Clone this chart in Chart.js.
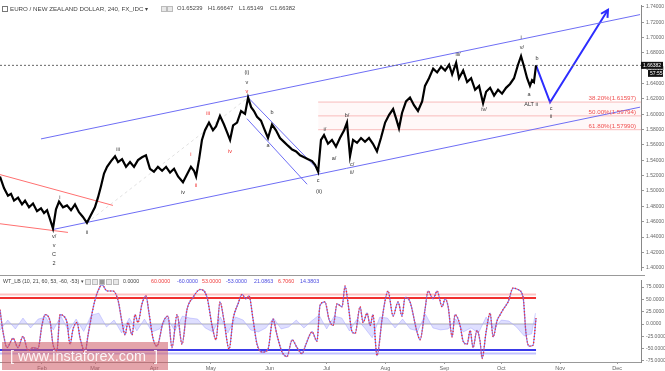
<!DOCTYPE html>
<html>
<head>
<meta charset="utf-8">
<script src="https://cdn.jsdelivr.net/npm/chart.js@4.4.0/dist/chart.umd.min.js"></script>
<style>
  body { margin: 0; background: #fff; font-family: Arial, "Liberation Sans", sans-serif; }
  #wrap { position: relative; width: 665px; height: 371px; overflow: hidden; }
  canvas { position: absolute; left: 0; }
  #top { top: 0; }
  #bot { top: 275px; }
  .t { position: absolute; white-space: nowrap; color: #444; font-size: 5.8px; line-height: 7px; }
  .o { font-size: 5.3px; }
  .ico { position: absolute; width: 4px; height: 4px; border: 1px solid #bbb; background: #e8e8e8; }
  #sep { position: absolute; left: 0; top: 275px; width: 645px; height: 1px; background: #999; }
  #wm { position: absolute; left: 2px; top: 342px; width: 166px; height: 28px; background: rgba(205, 90, 100, 0.55);
        color: rgba(255,255,255,0.9); font-size: 14.4px; line-height: 28px; white-space: nowrap; }
</style>
</head>
<body>
<div id="wrap">
  <canvas id="top" width="665" height="275"></canvas>
  <canvas id="bot" width="665" height="96"></canvas>
  <div id="sep"></div>

  <div class="ico" style="left:2px;top:6px;background:#fff;border-color:#777"></div>
  <div class="t" style="left:10px;top:5px;font-size:6.2px">EURO / NEW ZEALAND DOLLAR, 240, FX_IDC &#9662;</div>
  <div class="ico" style="left:161px;top:6px"></div>
  <div class="ico" style="left:167px;top:6px"></div>
  <div class="t" style="left:177px;top:5px">O1.65239</div>
  <div class="t" style="left:208px;top:5px">H1.66647</div>
  <div class="t" style="left:239px;top:5px">L1.65149</div>
  <div class="t" style="left:270px;top:5px">C1.66382</div>

  <div class="t o" style="left:3px;top:278px">WT_LB (10, 21, 60, 53, -60, -53) &#9662;</div>
  <div class="ico" style="left:85px;top:279px"></div>
  <div class="ico" style="left:92px;top:279px"></div>
  <div class="ico" style="left:99px;top:279px;background:#999"></div>
  <div class="ico" style="left:106px;top:279px"></div>
  <div class="ico" style="left:113px;top:279px"></div>
  <div class="t o" style="left:123px;top:278px">0.0000</div>
  <div class="t o" style="left:151px;top:278px;color:#f03c3c">60.0000</div>
  <div class="t o" style="left:177px;top:278px;color:#4a4ae0">-60.0000</div>
  <div class="t o" style="left:202px;top:278px;color:#f03c3c">53.0000</div>
  <div class="t o" style="left:226px;top:278px;color:#4a4ae0">-53.0000</div>
  <div class="t o" style="left:254px;top:278px;color:#4a4ae0">21.0863</div>
  <div class="t o" style="left:278px;top:278px;color:#f03c3c">6.7060</div>
  <div class="t o" style="left:300px;top:278px;color:#4a4ae0">14.3803</div>

  <div id="wm">&nbsp;&nbsp;[&nbsp;www.instaforex.com&nbsp;&nbsp;]</div>
</div>

<script>
// x axis = day of year 2017
const X_MIN = 8.9, X_MAX = 346.6;

const monthDays = [31, 59, 90, 120, 151, 181, 212, 243, 273, 304, 334];
const monthNames = ['Feb', 'Mar', 'Apr', 'May', 'Jun', 'Jul', 'Aug', 'Sep', 'Oct', 'Nov', 'Dec'];
const priceTicks = [1.40, 1.42, 1.44, 1.46, 1.48, 1.50, 1.52, 1.54, 1.56, 1.58, 1.60, 1.62, 1.64, 1.66, 1.68, 1.70, 1.72, 1.74];
const wtTicks = [-75, -50, -25, 0, 25, 50, 75];

// EUR/NZD 4h price path
const priceDays = [8.9,11.0,13.1,14.7,16.3,18.4,20.5,22.1,24.2,26.3,28.4,30.5,32.1,33.7,35.2,36.8,38.4,40.0,42.1,44.2,
  46.3,48.4,50.5,52.6,54.7,56.8,58.9,60.5,62.1,63.7,65.3,67.4,69.5,71.1,73.2,75.3,77.4,79.5,81.6,83.7,
  85.8,87.9,90.0,92.1,94.3,96.4,98.5,100.6,102.7,105.3,107.4,109.5,111.1,112.2,113.8,115.3,116.9,119.0,121.1,122.7,
  124.8,126.9,128.5,130.1,131.7,133.8,135.9,138.0,139.6,141.2,142.7,144.3,146.4,148.0,150.1,152.2,154.3,156.4,158.5,160.6,
  162.8,164.9,167.0,169.1,171.2,173.3,174.9,176.5,178.0,179.6,181.7,183.8,185.9,188.0,190.2,191.7,193.3,194.9,197.0,199.1,
  201.2,203.3,205.4,207.5,209.6,211.8,213.9,216.0,217.6,219.1,220.7,222.8,224.9,227.0,229.1,231.3,232.8,234.9,237.1,239.2,
  241.3,243.4,245.5,247.1,249.2,250.7,252.9,255.0,257.1,259.2,261.3,263.4,265.0,267.1,269.2,271.3,273.4,275.5,277.6,279.7,
  281.8,283.4,285.0,286.6,288.1,289.2,290.2,291.3];
const priceVals = [1.5189,1.5038,1.4938,1.4963,1.4875,1.4913,1.4825,1.4875,1.4787,1.4837,1.4737,1.4774,1.4712,1.4749,1.4637,1.4511,1.4762,1.4862,1.4787,1.4812,
  1.4749,1.4825,1.4724,1.4662,1.4586,1.4687,1.4787,1.4913,1.5063,1.5227,1.5315,1.5390,1.5453,1.5377,1.5415,1.5315,1.5377,1.5315,1.5403,1.5440,
  1.5465,1.5289,1.5252,1.5315,1.5264,1.5315,1.5239,1.5289,1.5189,1.5113,1.5214,1.5315,1.5264,1.5189,1.5415,1.5666,1.5792,1.5892,1.5792,1.5842,
  1.5980,1.5867,1.5767,1.5666,1.5855,1.5892,1.6043,1.6006,1.6219,1.6093,1.6043,1.5968,1.5918,1.5817,1.5691,1.5867,1.5792,1.5691,1.5641,1.5591,
  1.5541,1.5516,1.5465,1.5440,1.5415,1.5390,1.5340,1.5252,1.5666,1.5729,1.5616,1.5666,1.5578,1.5691,1.5792,1.5892,1.5453,1.5666,1.5628,1.5691,
  1.5641,1.5691,1.5616,1.5516,1.5691,1.5892,1.5993,1.6068,1.5943,1.5817,1.6018,1.6169,1.6219,1.6118,1.6043,1.6169,1.6370,1.6470,1.6596,1.6546,
  1.6621,1.6571,1.6646,1.6521,1.6671,1.6470,1.6571,1.6420,1.6470,1.6320,1.6370,1.6144,1.6294,1.6345,1.6244,1.6320,1.6269,1.6345,1.6395,1.6470,
  1.6646,1.6759,1.6621,1.6470,1.6370,1.6445,1.6420,1.6638];

const lastPrice = 1.66382;

// drawn trend lines: [day, price] end points
const channelUpper = [[30.5, 1.5679], [346.1, 1.7300]];
const channelLower = [[36.8, 1.4498], [346.1, 1.6093]];
const wedgeUpper = [[8.9, 1.5214], [68.4, 1.4812]];
const wedgeLower = [[8.9, 1.4573], [44.7, 1.4460]];
const corrUpper = [[139.6, 1.6219], [177.5, 1.5252]];
const corrLower = [[139.0, 1.5943], [170.7, 1.5088]];
const guideLine = [[54.7, 1.4586], [139.6, 1.6219]];
const projection = [[291.3, 1.6638], [298.7, 1.6156], [329.2, 1.7362]];

const fibStart = 176.5;
const fibLevels = [1.61597, 1.59794, 1.57990];
const fibNames = ['38.20%(1.61597)', '50.00%(1.59794)', '61.80%(1.57990)'];

// wave count labels: text, day, price, red?
const waveLabels = [
  ['(i)', 139.0, 1.6546], ['v', 139.0, 1.6420], ['v', 139.0, 1.6294, 1],
  ['iii', 71.1, 1.5541], ['i', 40.5, 1.4913], ['ii', 54.7, 1.4460],
  ['v/', 37.4, 1.4410], ['v', 37.4, 1.4284], ['C', 37.4, 1.4171], ['2', 37.4, 1.4058],
  ['iv', 105.3, 1.4975], ['i', 109.5, 1.5478, 1], ['ii', 112.2, 1.5076, 1],
  ['iii', 118.5, 1.6006, 1], ['iv', 130.1, 1.5516, 1],
  ['b', 152.2, 1.6018], ['a', 150.1, 1.5591], ['c', 176.5, 1.5139], ['(ii)', 177.0, 1.5000],
  ['i/', 180.1, 1.5804], ['a/', 184.9, 1.5428], ['b/', 191.7, 1.5980], ['c/', 194.4, 1.5352], ['ii/', 194.4, 1.5239],
  ['iii/', 250.2, 1.6784], ['iv/', 263.9, 1.6068], ['v/', 283.9, 1.6872], ['i', 283.4, 1.6998],
  ['b', 291.8, 1.6734], ['a', 287.6, 1.6257], ['ALT ii', 288.7, 1.6131], ['c', 299.2, 1.6081], ['ii', 299.2, 1.5968]
];

// WaveTrend oscillator
const wtDays = [8.9,10.5,12.6,15.8,18.4,21.0,23.7,26.3,28.9,31.0,32.6,35.2,36.8,38.9,40.5,42.1,44.2,45.8,47.4,49.5,
  51.1,53.7,55.3,57.4,58.9,60.5,62.6,65.3,68.4,71.1,73.2,74.8,76.3,78.5,80.0,81.6,83.7,85.8,87.4,89.5,
  91.6,94.8,97.4,99.5,102.2,104.8,107.4,110.6,114.3,118.0,120.6,122.7,124.8,126.9,129.6,131.7,134.3,136.4,138.5,140.1,
  142.2,144.3,147.5,150.1,152.7,154.8,157.5,160.1,162.8,165.4,168.0,170.1,173.3,175.9,177.5,180.1,182.2,184.4,186.5,189.1,
  190.7,192.3,194.4,196.0,198.6,200.2,202.3,203.9,205.4,207.5,210.2,211.8,213.3,216.0,218.6,220.7,222.3,224.9,228.6,230.2,
  232.8,234.4,237.1,239.2,241.8,243.4,245.0,247.1,248.6,251.3,252.9,255.0,256.6,258.1,260.2,261.8,262.9,265.0,267.1,268.7,
  270.8,272.4,273.9,276.6,279.2,281.8,284.5,286.0,287.6,289.7,291.3];
const wtVals = [29,-16,-48,-29,-48,-25,-54,-48,-50,-3,19,7,-41,-54,19,17,3,-41,-10,3,
  -29,-57,-22,22,48,67,80,67,67,48,3,-22,3,-22,19,3,41,57,22,-29,
  -45,3,16,-48,19,-41,29,54,70,54,-3,-32,45,7,-51,10,41,60,51,57,
  10,-41,-57,-51,10,-22,-57,-66,-32,-48,-60,-41,-16,-35,38,45,10,-3,41,35,
  77,41,-16,-19,35,3,22,-3,19,-64,10,48,67,16,45,16,54,45,-16,-32,
  29,67,51,67,35,51,35,-26,19,-3,-35,-41,-13,-48,-13,-35,-70,-16,22,-26,
  7,19,29,45,73,70,54,-19,-45,-43,12];

const histDays = [9,13,17,21,25,29,33,37,41,45,49,53,57,61,65,69,73,77,81,85,89,93,97,101,105,109,113,117,121,125,
  129,133,137,141,145,149,153,157,161,165,169,173,177,181,185,189,193,197,201,205,209,213,217,221,225,229,233,237,241,245,
  249,253,257,261,265,269,273,277,281,285,289,291];
const histVals = [-12,8,-10,12,-8,10,14,-12,16,-14,10,-15,18,22,-6,8,-18,12,-14,10,-16,-10,12,-14,16,12,10,-8,-16,14,
  -18,14,8,-12,-16,-8,12,-10,-6,8,-8,6,18,-10,16,12,-14,10,-8,-28,14,12,-8,10,-10,-14,20,-8,-12,-10,
  10,-16,-8,-18,14,-10,8,6,-6,-24,-20,22];

const wtLevels = [60, 53, 0, -53, -60];
const wtLevelColors = ['rgba(255,120,120,0.45)', '#f03030', 'rgba(120,120,120,0.6)', '#3a3ae8', 'rgba(120,120,255,0.45)'];
const wtLevelWidths = [2, 2, 1, 2, 2];

const pts = arr => arr.map(p => ({ x: p[0], y: p[1] }));
const seg = (pairs, color, width, dash) => ({
  data: pts(pairs), borderColor: color, borderWidth: width, borderDash: dash || [], pointRadius: 0, fill: false
});

const topOverlay = {
  id: 'topOverlay',
  afterDatasetsDraw(chart) {
    const { ctx, scales: { x, y } } = chart;
    ctx.save();
    // arrow head on projection
    const meta = chart.getDatasetMeta(chart.data.datasets.length - 1).data;
    const a = meta[meta.length - 2], b = meta[meta.length - 1];
    const ang = Math.atan2(b.y - a.y, b.x - a.x);
    ctx.strokeStyle = '#2d2dff';
    ctx.lineWidth = 2;
    ctx.beginPath();
    ctx.moveTo(b.x - 8 * Math.cos(ang - 0.5), b.y - 8 * Math.sin(ang - 0.5));
    ctx.lineTo(b.x, b.y);
    ctx.lineTo(b.x - 8 * Math.cos(ang + 0.5), b.y - 8 * Math.sin(ang + 0.5));
    ctx.stroke();

    // wave labels
    ctx.font = '5.5px Arial';
    ctx.textAlign = 'center';
    ctx.textBaseline = 'middle';
    waveLabels.forEach(l => {
      ctx.fillStyle = l[3] ? '#f02828' : '#333';
      ctx.fillText(l[0], x.getPixelForValue(l[1]), y.getPixelForValue(l[2]));
    });

    // fib labels
    ctx.font = '6.2px Arial';
    ctx.textAlign = 'right';
    ctx.textBaseline = 'bottom';
    ctx.fillStyle = '#f05050';
    fibLevels.forEach((v, i) => ctx.fillText(fibNames[i], x.getPixelForValue(344.0), y.getPixelForValue(v) - 0.5));

    // last price tag on the axis
    const py = y.getPixelForValue(lastPrice);
    ctx.fillStyle = '#111';
    ctx.fillRect(641, py - 3.5, 22, 7);
    ctx.fillRect(648, py + 4.5, 15, 7);
    ctx.fillStyle = '#fff';
    ctx.font = '5px Arial';
    ctx.textAlign = 'left';
    ctx.textBaseline = 'middle';
    ctx.fillText(lastPrice.toFixed(5), 643, py);
    ctx.fillText('57:55', 650, py + 8);
    ctx.restore();
  }
};

new Chart(document.getElementById('top'), {
  type: 'line',
  data: {
    datasets: [
      { data: priceDays.map((d, i) => ({ x: d, y: priceVals[i] })), borderColor: '#000', borderWidth: 2.2, pointRadius: 0, fill: false },
      seg([[X_MIN, lastPrice], [X_MAX, lastPrice]], '#666', 1, [2, 2]),
      seg(channelUpper, '#6e6ef5', 1),
      seg(channelLower, '#6e6ef5', 1),
      seg(corrUpper, '#6e6ef5', 1),
      seg(corrLower, '#6e6ef5', 1),
      seg(wedgeUpper, '#ff7070', 1),
      seg(wedgeLower, '#ff7070', 1),
      seg(guideLine, 'rgba(0,0,0,0.12)', 1, [3, 3]),
      { ...seg([[fibStart, fibLevels[0]], [X_MAX, fibLevels[0]]], 'rgba(240,110,110,0.45)', 1), fill: { target: 11 }, backgroundColor: 'rgba(250,150,150,0.07)' },
      seg([[fibStart, fibLevels[1]], [X_MAX, fibLevels[1]]], 'rgba(240,110,110,0.45)', 1),
      seg([[fibStart, fibLevels[2]], [X_MAX, fibLevels[2]]], 'rgba(240,110,110,0.45)', 1),
      seg(projection, '#2d2dff', 2)
    ]
  },
  options: {
    responsive: false,
    animation: false,
    layout: { padding: 0 },
    plugins: { legend: { display: false }, tooltip: { enabled: false } },
    scales: {
      x: { type: 'linear', min: X_MIN, max: X_MAX, display: false },
      y: {
        type: 'linear', position: 'right', min: 1.3970, max: 1.7425,
        afterFit: s => { s.width = 24; },
        afterBuildTicks: s => { s.ticks = priceTicks.map(v => ({ value: v })); },
        ticks: { font: { size: 5, family: 'Arial' }, color: '#666', padding: 2, callback: v => v.toFixed(5) },
        grid: { drawOnChartArea: false, tickLength: 3, color: '#999' },
        border: { color: '#888' }
      }
    }
  },
  plugins: [topOverlay]
});

const wtEnd = wtDays[wtDays.length - 1];
const wtData = wtDays.map((d, i) => ({ x: d, y: wtVals[i] }));

new Chart(document.getElementById('bot'), {
  type: 'line',
  data: {
    datasets: [
      { data: wtData, borderColor: '#ff2a2a', borderWidth: 1.4, borderDash: [1, 2], pointRadius: 0,
        cubicInterpolationMode: 'monotone', fill: false },
      { data: wtData, borderColor: 'rgba(110,110,240,0.9)', borderWidth: 1.2, pointRadius: 0,
        cubicInterpolationMode: 'monotone', fill: false },
      { data: histDays.map((d, i) => ({ x: d, y: histVals[i] })), borderColor: 'rgba(150,150,255,0.5)', borderWidth: 0.8,
        backgroundColor: 'rgba(150,150,255,0.3)', pointRadius: 0, fill: 'origin' },
      ...wtLevels.map((v, i) => seg([[X_MIN, v], [wtEnd, v]], wtLevelColors[i], wtLevelWidths[i]))
    ]
  },
  options: {
    responsive: false,
    animation: false,
    layout: { padding: 0 },
    plugins: { legend: { display: false }, tooltip: { enabled: false } },
    scales: {
      x: {
        type: 'linear', min: X_MIN, max: X_MAX,
        afterFit: s => { s.height = 9; },
        afterBuildTicks: s => { s.ticks = monthDays.map(v => ({ value: v })); },
        ticks: { font: { size: 5.5, family: 'Arial' }, color: '#666', padding: 1, autoSkip: false, maxRotation: 0,
                 callback: v => monthNames[monthDays.indexOf(v)] },
        grid: { drawOnChartArea: false, tickLength: 2, color: '#999' },
        border: { color: '#999' }
      },
      y: {
        type: 'linear', position: 'right', min: -77.1, max: 89.3,
        afterFit: s => { s.width = 24; },
        afterBuildTicks: s => { s.ticks = wtTicks.map(v => ({ value: v })); },
        ticks: { font: { size: 5, family: 'Arial' }, color: '#666', padding: 2, callback: v => v.toFixed(4) },
        grid: { drawOnChartArea: false, tickLength: 3, color: '#999' },
        border: { color: '#888' }
      }
    }
  }
});
</script>
</body>
</html>
